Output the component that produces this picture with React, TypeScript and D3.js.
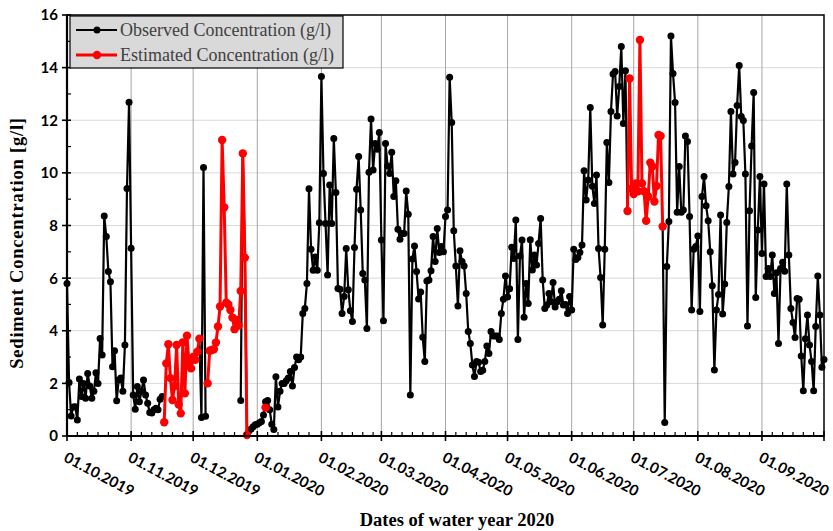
import { useEffect, useRef } from 'react';
import * as d3 from 'd3';

// daily observed concentration (g/l), one array per month, null = no observation
const obsOct2019 = [5.8, 2.03, 0.76, 1.1, 1.11, 0.61, 2.17, 1.5, 2.0, 1.43, 2.38, 1.9, 1.43, 1.7, 2.4, 2.0, 3.71, 3.08, 8.36, 7.58, 6.25, 5.86, 2.63, 3.24, 1.34, 2.13, 2.2, 1.7, 3.46, 9.41, 12.68];
const obsNov2019 = [7.14, 1.56, 1.02, 1.88, 1.3, 1.7, 2.13, 1.56, 1.24, 0.89, 0.87, 1.0, 1.05, 1.0, 1.4, 1.5, null, null, null, null, null, null, null, null, null, null, null, null, null, null];
const obsDec2019 = [null, null, null, 3.7, 0.7, 10.2, 0.75, null, null, null, null, null, null, null, null, null, null, null, null, null, null, null, null, 1.35, 10.74, 6.78, 0.04, 0.2, 0.27, 0.35, 0.43];
const obsJan2020 = [0.45, 0.5, 0.55, 0.8, 1.3, 1.35, 1.0, 0.45, 0.25, 2.25, 1.1, 1.7, 2.0, 2.0, 2.1, 2.2, 2.45, 1.9, 2.6, 3.0, 2.9, 3.0, 4.66, 4.85, 5.8, 9.4, 7.1, 6.3, 6.8, 6.3, 8.1];
const obsFeb2020 = [13.66, 9.98, 8.08, 6.12, 9.54, 8.08, 11.31, 9.25, 5.61, 5.58, 4.66, 5.3, 7.13, 5.56, 4.76, 4.35, 7.16, 9.38, 10.62, 8.59, 6.18, 5.93, 4.09, 10.02, 12.05, 10.11, 11.12, 10.9, 11.53];
const obsMar2020 = [7.45, 4.38, 11.12, 10.26, 9.98, 10.78, 9.1, 9.7, 7.86, 7.48, 7.7, 7.7, 9.31, 8.43, 1.56, 6.73, 7.22, 6.25, 5.21, 5.47, 3.75, 2.83, 5.89, 5.93, 6.28, 7.58, 6.63, 7.89, 6.97, 7.2, 7.0];
const obsApr2020 = [8.34, 8.59, 13.63, 11.91, 7.8, 6.46, 4.94, 7.04, 6.63, 6.46, 5.42, 3.97, 3.52, 2.7, 2.26, 2.83, 2.8, 2.45, 2.5, 2.83, 3.42, 3.14, 3.97, 3.8, 3.8, 3.8, 3.67, 4.66, 5.2, 6.08];
const obsMay2020 = [5.28, 5.6, 7.17, 6.75, 8.21, 3.67, 6.84, 7.45, 4.51, 5.8, 5.04, 7.46, 6.31, 6.88, 6.5, 7.32, 8.27, 5.93, 4.85, 4.98, 5.42, 5.1, 5.83, 4.9, 5.1, 5.2, 5.52, 4.98, 5.0, 4.66, 5.3];
const obsJun2020 = [4.79, 7.1, 6.71, 6.78, 6.97, 7.26, 10.08, 8.97, 9.73, 12.48, 9.49, 8.84, 9.92, 7.13, 6.02, 4.22, 7.1, 11.15, 9.63, 12.33, 13.76, 13.85, 12.16, 13.28, 14.8, 11.88, 13.88, 8.55, null, null];
const obsJul2020 = [null, null, null, null, null, null, null, null, null, null, null, null, null, null, 7.96, 0.51, 6.44, 8.15, 15.2, 13.78, 12.67, 8.5, 10.24, 8.5, 8.59, 11.4, 11.19, 8.34, 4.79, 7.1, 7.2];
const obsAug2020 = [7.6, 4.73, 9.1, 9.86, 8.75, 8.18, 7.0, 5.71, 2.51, 4.79, 5.38, 8.4, 4.64, 5.78, 8.11, 9.48, 12.33, 9.96, 10.39, 12.56, 14.08, 12.14, 11.99, 9.96, 4.18, 8.56, 11.02, 13.05, 5.26, 7.83, 9.86];
const obsSep2020 = [6.94, 9.58, 6.06, 6.37, 6.06, 6.88, 5.42, 6.2, 3.52, 6.37, 6.6, 6.26, 9.58, 6.88, 4.85, 4.31, 3.74, 5.23, 5.2, 3.04, 1.72, 3.7, 4.6, 3.46, 2.83, 1.72, 4.16, 6.08, 4.6, 2.61];
const obsOct2020 = [2.91];

const observedMonths = [obsOct2019, obsNov2019, obsDec2019, obsJan2020, obsFeb2020, obsMar2020, obsApr2020, obsMay2020, obsJun2020, obsJul2020, obsAug2020, obsSep2020, obsOct2020];

// estimated concentration (g/l), consecutive days from each start date
const estNov2019 = [0.52, 2.76, 3.49, 2.2, 1.37, 1.9, 3.46, 1.2, 0.86, 3.56, 1.62, 3.81, 2.76, 2.57, 3.0, 2.9, 3.2, 3.7];
const estDec2019 = [2.0, 3.24, 3.27, 3.3, 3.55, 4.16, 4.92, 11.25, 8.69, 5.07, 5.0, 4.79, 4.5, 4.06, 4.41, 4.2, 5.51, 10.74, 6.78, 0.04];
const estJan2020 = [1.08];
const estJul2020 = [8.55, 13.59, 9.4, 9.2, 9.6, 9.3, 15.05, 9.6, 9.3, 8.18, 9.1, 10.39, 10.24, 8.91, 9.5, 11.44, 11.4, 7.96];

const estimatedSegments = [
  { start: '2019-11-17', values: estNov2019 },
  { start: '2019-12-08', values: estDec2019 },
  { start: '2020-01-05', values: estJan2020 },
  { start: '2020-06-28', values: estJul2020 },
];

const monthLabels = ['01.10.2019', '01.11.2019', '01.12.2019', '01.01.2020', '01.02.2020', '01.03.2020', '01.04.2020', '01.05.2020', '01.06.2020', '01.07.2020', '01.08.2020', '01.09.2020'];
const yTickValues = [0, 2, 4, 6, 8, 10, 12, 14, 16];

const seriesNames = ['Observed Concentration (g/l)', 'Estimated Concentration (g/l)'];
const seriesColors = ['#000000', '#ff0000'];

const W = 833;
const H = 531;
const left = 67;
const right = 824;
const top = 15;
const bottom = 436;

type Pt = { date: Date; v: number | null };

export default function App() {
  const svgRef = useRef<SVGSVGElement>(null);

  useEffect(() => {
    if (!svgRef.current) return;
    const svg = d3.select(svgRef.current);
    svg.selectAll('*').remove();

    const parseIso = d3.timeParse('%Y-%m-%d');
    const parseLabel = d3.timeParse('%d.%m.%Y');
    const start = parseIso('2019-10-01')!;
    const end = parseIso('2020-10-01')!;

    const x = d3.scaleTime().domain([start, end]).range([left, right]);
    const y = d3.scaleLinear().domain([0, 16]).range([bottom, top]);

    // observed points, one per day
    const observed: Pt[] = [];
    let k = 0;
    observedMonths.forEach(arr => {
      arr.forEach(v => {
        observed.push({ date: d3.timeDay.offset(start, k), v });
        k++;
      });
    });

    const estimated: Pt[][] = estimatedSegments.map(seg => {
      const s = parseIso(seg.start)!;
      return seg.values.map((v, i) => ({ date: d3.timeDay.offset(s, i), v }));
    });

    const monthDates = monthLabels.map(l => parseLabel(l)!);

    // gridlines
    svg.append('g')
      .selectAll('line')
      .data(yTickValues.filter(v => v > 0 && v < 16))
      .enter()
      .append('line')
      .attr('x1', left).attr('x2', right)
      .attr('y1', d => y(d)).attr('y2', d => y(d))
      .attr('stroke', '#d9d9d9').attr('stroke-width', 1);

    svg.append('g')
      .selectAll('line')
      .data(monthDates.slice(1))
      .enter()
      .append('line')
      .attr('x1', d => x(d)).attr('x2', d => x(d))
      .attr('y1', top).attr('y2', bottom)
      .attr('stroke', '#a6a6a6').attr('stroke-width', 1);

    // observed series
    const line = d3.line<Pt>()
      .defined(d => d.v != null)
      .x(d => x(d.date))
      .y(d => y(d.v as number));

    svg.append('path')
      .datum(observed)
      .attr('d', line)
      .attr('fill', 'none')
      .attr('stroke', seriesColors[0])
      .attr('stroke-width', 2.2)
      .attr('stroke-linejoin', 'round');

    svg.append('g')
      .selectAll('circle')
      .data(observed.filter(d => d.v != null))
      .enter()
      .append('circle')
      .attr('cx', d => x(d.date))
      .attr('cy', d => y(d.v as number))
      .attr('r', 3.5)
      .attr('fill', seriesColors[0]);

    // estimated series
    estimated.forEach(seg => {
      svg.append('path')
        .datum(seg)
        .attr('d', line)
        .attr('fill', 'none')
        .attr('stroke', seriesColors[1])
        .attr('stroke-width', 3)
        .attr('stroke-linejoin', 'round');
      svg.append('g')
        .selectAll('circle')
        .data(seg)
        .enter()
        .append('circle')
        .attr('cx', d => x(d.date))
        .attr('cy', d => y(d.v as number))
        .attr('r', 4.2)
        .attr('fill', seriesColors[1]);
    });

    // plot frame
    svg.append('rect')
      .attr('x', left).attr('y', top)
      .attr('width', right - left).attr('height', bottom - top)
      .attr('fill', 'none').attr('stroke', '#000').attr('stroke-width', 1.5);
    svg.append('line')
      .attr('x1', left).attr('x2', left).attr('y1', top).attr('y2', bottom)
      .attr('stroke', '#000').attr('stroke-width', 2.2);
    svg.append('line')
      .attr('x1', left).attr('x2', right).attr('y1', bottom).attr('y2', bottom)
      .attr('stroke', '#000').attr('stroke-width', 2.2);

    // x ticks
    const majorX = [...monthDates, end];
    svg.append('g')
      .selectAll('line')
      .data(majorX)
      .enter()
      .append('line')
      .attr('x1', d => x(d)).attr('x2', d => x(d))
      .attr('y1', bottom - 5).attr('y2', bottom + 5)
      .attr('stroke', '#000').attr('stroke-width', 1.6);

    const minorX: Date[] = [];
    monthDates.forEach(m => {
      [5, 10, 15, 20, 25].forEach(o => minorX.push(d3.timeDay.offset(m, o)));
    });
    svg.append('g')
      .selectAll('line')
      .data(minorX)
      .enter()
      .append('line')
      .attr('x1', d => x(d)).attr('x2', d => x(d))
      .attr('y1', bottom - 4).attr('y2', bottom)
      .attr('stroke', '#000').attr('stroke-width', 1.2);

    svg.append('g')
      .selectAll('text')
      .data(monthDates)
      .enter()
      .append('text')
      .attr('transform', d => `translate(${x(d) + 1}, 451) rotate(28)`)
      .attr('y', 11)
      .attr('font-family', 'Lato, sans-serif')
      .attr('font-weight', 700)
      .attr('font-size', 15)
      .attr('fill', '#000')
      .text((d, i) => monthLabels[i]);

    // y ticks
    svg.append('g')
      .selectAll('line')
      .data(yTickValues)
      .enter()
      .append('line')
      .attr('x1', left - 5).attr('x2', left + 4)
      .attr('y1', d => y(d)).attr('y2', d => y(d))
      .attr('stroke', '#000').attr('stroke-width', 1.6);

    svg.append('g')
      .selectAll('line')
      .data(d3.range(1, 16, 2))
      .enter()
      .append('line')
      .attr('x1', left).attr('x2', left + 4)
      .attr('y1', d => y(d)).attr('y2', d => y(d))
      .attr('stroke', '#000').attr('stroke-width', 1.2);

    svg.append('g')
      .selectAll('text')
      .data(yTickValues)
      .enter()
      .append('text')
      .attr('x', left - 9)
      .attr('y', d => y(d))
      .attr('dy', '0.36em')
      .attr('text-anchor', 'end')
      .attr('font-family', 'Lato, sans-serif')
      .attr('font-weight', 700)
      .attr('font-size', 15)
      .attr('fill', '#000')
      .text(d => d);

    // axis titles
    svg.append('text')
      .attr('x', 457)
      .attr('y', 526)
      .attr('text-anchor', 'middle')
      .attr('font-family', '"Liberation Serif", "Times New Roman", serif')
      .attr('font-weight', 700)
      .attr('font-size', 18.5)
      .attr('fill', '#000')
      .text('Dates of water year 2020');

    svg.append('text')
      .attr('transform', `translate(23, 243) rotate(-90)`)
      .attr('text-anchor', 'middle')
      .attr('font-family', '"Liberation Serif", "Times New Roman", serif')
      .attr('font-weight', 700)
      .attr('font-size', 18.5)
      .attr('letter-spacing', 0.8)
      .attr('fill', '#000')
      .text('Sediment Concentration [g/l]');

    // legend
    const lg = svg.append('g');
    lg.append('rect')
      .attr('x', 70).attr('y', 16)
      .attr('width', 273).attr('height', 52)
      .attr('fill', '#d9d9d9')
      .attr('stroke', '#000').attr('stroke-width', 1.2);
    seriesNames.forEach((name, i) => {
      const cy = 30 + i * 25;
      lg.append('line')
        .attr('x1', 76).attr('x2', 117)
        .attr('y1', cy).attr('y2', cy)
        .attr('stroke', seriesColors[i])
        .attr('stroke-width', i === 0 ? 2.2 : 3);
      lg.append('circle')
        .attr('cx', 97).attr('cy', cy)
        .attr('r', i === 0 ? 3.5 : 4.2)
        .attr('fill', seriesColors[i]);
      lg.append('text')
        .attr('x', 120).attr('y', cy)
        .attr('dy', '0.35em')
        .attr('font-family', '"Liberation Serif", "Times New Roman", serif')
        .attr('font-size', 18)
        .attr('fill', '#404040')
        .text(name);
    });
  }, []);

  return (
    <svg
      ref={svgRef}
      width={W}
      height={H}
      style={{ position: 'absolute', left: 0, top: 0, background: '#fff' }}
    />
  );
}
